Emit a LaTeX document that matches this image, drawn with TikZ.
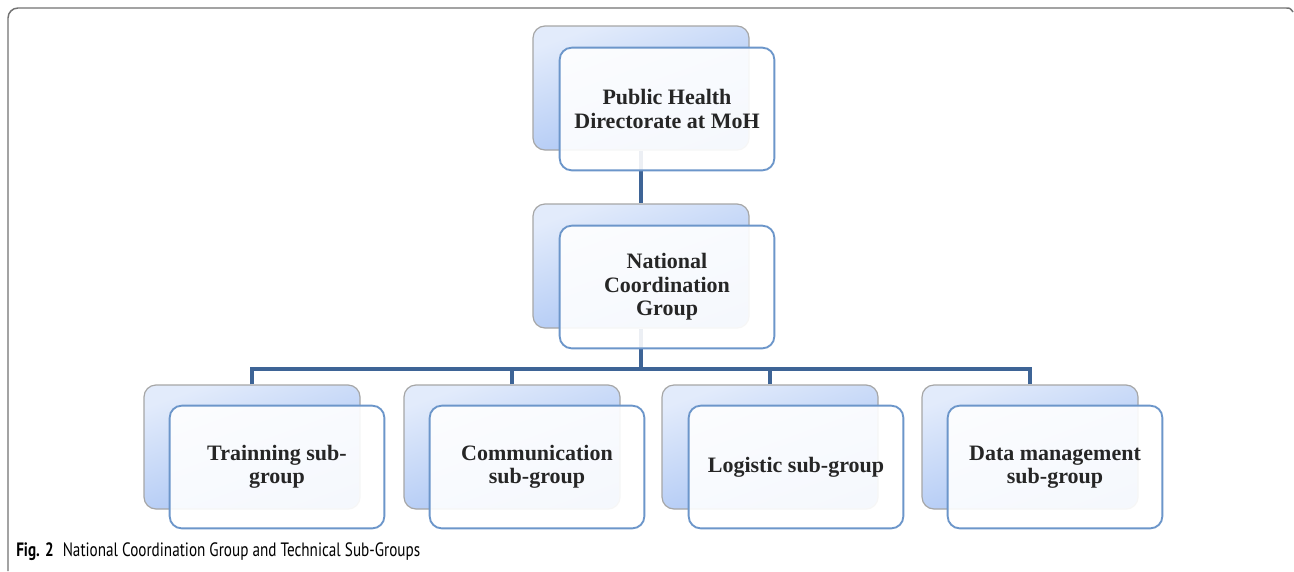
\documentclass[tikz,border=0pt]{standalone}
\usepackage{fontspec}
\setmainfont{Liberation Serif}
\newfontfamily\capfont{PT Sans}
\begin{document}
\begin{tikzpicture}[x=0.75pt,y=-0.75pt,
  backbox/.style={rounded corners=9pt, minimum width=162pt, minimum height=93pt,
    draw=black!35, line width=0.9pt, top color=bluetop, bottom color=bluebot, shading angle=20},
  frontbox/.style={rounded corners=9pt, minimum width=161pt, minimum height=92pt,
    draw=frontline, line width=1.4pt, fill=white, fill opacity=0.9, text opacity=1,
    align=center, font=\bfseries\fontsize{16.5pt}{17.5pt}\selectfont, text=black!85},
  conn/.style={draw=connblue, line width=2.4pt, line join=miter},
  frame/.style={draw=black!55, line width=1.1pt}]
\definecolor{bluetop}{HTML}{E2EBFB}
\definecolor{bluebot}{HTML}{A3C0F3}
\definecolor{frontline}{HTML}{6C96CA}
\definecolor{connblue}{HTML}{3E6496}
\useasboundingbox (0,0) rectangle (1294,571);
\fill[white] (0,0) rectangle (1294,571);
% frame
\draw[frame] (8,571) -- (8,18) arc[start angle=180, end angle=90, radius=7.5pt] -- (1286,8) .. controls (1290,8) .. (1293,12);
% back boxes
\node[backbox] (b1) at (641,88) {};
\node[backbox] (b2) at (641,266) {};
\node[backbox] (b3) at (252,447) {};
\node[backbox] (b4) at (512,447) {};
\node[backbox] (b5) at (770,447) {};
\node[backbox] (b6) at (1030,447) {};
% connectors
\coordinate (bus) at (641,369);
\draw[conn] (b1.south) -- (b2.north);
\draw[conn] (b2.south) -- (bus);
\draw[conn] (b3.north) |- (bus);
\draw[conn] (b4.north) |- (bus);
\draw[conn] (b5.north) |- (bus);
\draw[conn] (b6.north) |- (bus);
% front boxes
\node[frontbox] (f1) at (667,109) {Public Health\\Directorate at MoH};
\node[frontbox] (f2) at (667,287) {National\\Coordination\\Group};
\node[frontbox] (f3) at (277,467) {Trainning sub-\\group};
\node[frontbox] (f4) at (537,467) {Communication\\sub-group};
\node[frontbox] (f5) at (796,467) {Logistic sub-group};
\node[frontbox] (f6) at (1055,467) {Data management\\sub-group};
% caption
\node[anchor=base west, inner sep=0pt, font=\capfont\fontsize{14.5pt}{16pt}\selectfont] (cap) at (16,556) {\scalebox{0.785}[1]{\textbf{Fig. 2}\hspace{0.6em}National Coordination Group and Technical Sub-Groups}};
\end{tikzpicture}
\end{document}
